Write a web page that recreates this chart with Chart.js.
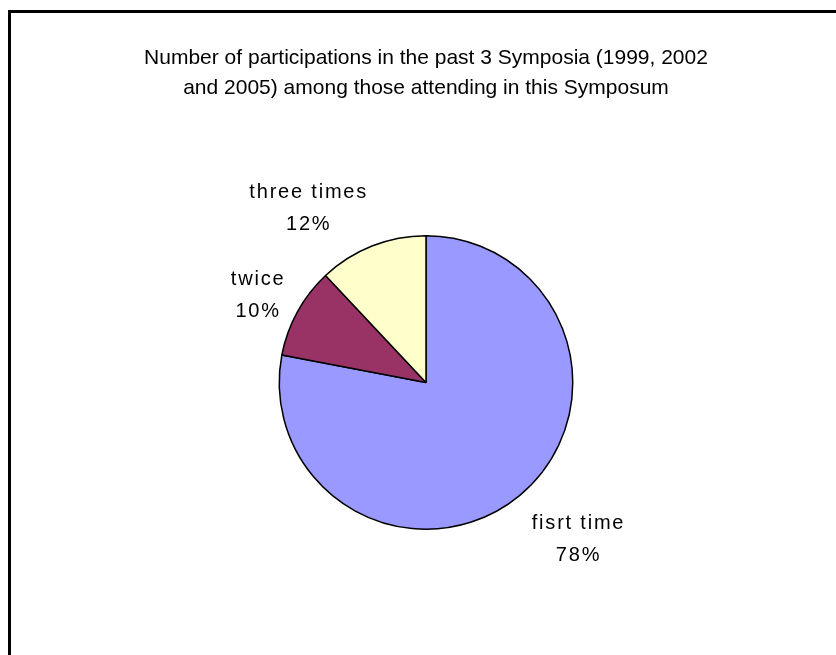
<!DOCTYPE html>
<html>
<head>
<meta charset="utf-8">
<script src="https://cdn.jsdelivr.net/npm/chart.js@4.4.1/dist/chart.umd.min.js"></script>
<style>
  html, body { margin: 0; padding: 0; background: #fff; overflow: hidden; }
  #wrap { position: relative; width: 836px; height: 655px; overflow: hidden; }
  #frame { position: absolute; left: 8px; top: 10px; width: 2000px; height: 2000px;
           border-left: 3px solid #000; border-top: 3px solid #000; box-sizing: border-box; }
  #c { position: absolute; left: 0; top: 0; }
</style>
</head>
<body>
<div id="wrap">
  <div id="frame"></div>
  <canvas id="c" width="836" height="655"></canvas>
</div>
<script>
const titleLines = [
  "Number of participations in the past 3 Symposia (1999, 2002",
  "and 2005) among those attending in this Symposum"
];
const categories = ["fisrt time", "twice", "three times"];
const percentages = [78, 10, 12];
const sliceColors = ["#9999FF", "#993366", "#FFFFCC"];

const FONT = "'Liberation Sans', Arial, sans-serif";

const sliceLabels = {
  id: "sliceLabels",
  afterDatasetsDraw(chart) {
    const ctx = chart.ctx;
    const meta = chart.getDatasetMeta(0);
    const gap = 16;
    const lineH = 32;
    ctx.save();
    ctx.font = "20px " + FONT;
    try { ctx.letterSpacing = "1.8px"; } catch (e) {}
    ctx.fillStyle = "#000";
    ctx.textAlign = "center";
    ctx.textBaseline = "middle";
    meta.data.forEach((arc, i) => {
      const p = arc.getProps(["x", "y", "startAngle", "endAngle", "outerRadius"], true);
      const mid = (p.startAngle + p.endAngle) / 2;
      const dx = Math.cos(mid), dy = Math.sin(mid);
      const px = p.x + dx * (p.outerRadius + gap);
      const py = p.y + dy * (p.outerRadius + gap);
      const l1 = chart.data.labels[i];
      const l2 = chart.data.datasets[0].data[i] + "%";
      const w = Math.max(ctx.measureText(l1).width, ctx.measureText(l2).width);
      const cx = px + Math.sign(dx) * w / 2 + 2;
      const cy = py + dy * lineH + 7;
      ctx.fillText(l1, cx, cy - lineH / 2);
      ctx.fillText(l2, cx, cy + lineH / 2);
    });
    ctx.restore();
  }
};

new Chart(document.getElementById("c"), {
  type: "pie",
  data: {
    labels: categories,
    datasets: [{
      data: percentages,
      backgroundColor: sliceColors,
      borderColor: "#000",
      borderWidth: 1.5
    }]
  },
  options: {
    responsive: false,
    animation: false,
    devicePixelRatio: 1,
    layout: { padding: { left: 16, right: 0, top: 0, bottom: 125 } },
    plugins: {
      legend: { display: false },
      tooltip: { enabled: false },
      title: {
        display: true,
        text: titleLines,
        color: "#000",
        font: { family: FONT, size: 21, weight: "normal", lineHeight: 30 / 21 },
        padding: { top: 43, bottom: 132 }
      }
    }
  },
  plugins: [sliceLabels]
});
</script>
</body>
</html>
